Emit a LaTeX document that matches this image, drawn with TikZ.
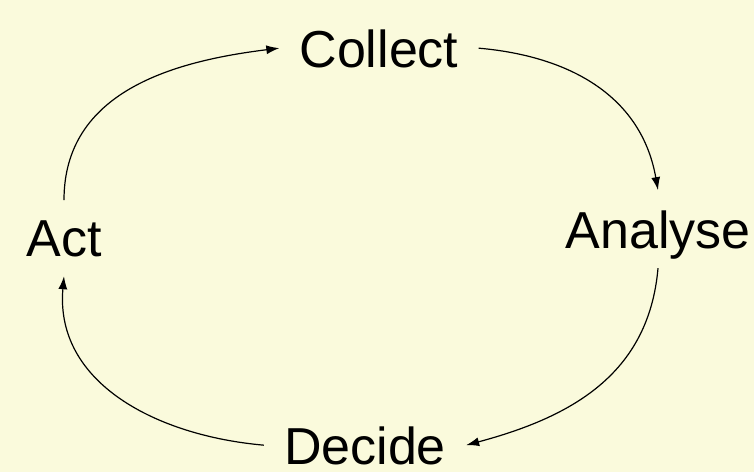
\documentclass[tikz,border=0pt]{standalone}
\usepackage{fontspec}
\setmainfont{Liberation Sans}
\usetikzlibrary{arrows.meta}
\definecolor{bg}{RGB}{250,250,220}
\begin{document}
\begin{tikzpicture}[x=1pt,y=-1pt,
  lbl/.style={font=\fontsize{52}{60}\selectfont, inner sep=20pt, text depth=0pt, anchor=base},
  flow/.style={line width=1.2pt, -{Latex[length=13pt,width=9pt]}, looseness=1.05}]
\fill[bg] (0,0) rectangle (754,472);
\useasboundingbox (0,0) rectangle (754,472);
\node[lbl] (collect) at (379,67) {Collect};
\node[lbl] (analyse) at (658,248) {Analyse};
\node[lbl, inner ysep=2pt] (decide) at (365,464) {Decide};
\node[lbl] (act) at (64,256) {Act};
\draw[flow] (act.north) to[out=90,in=187] (collect.west);
\draw[flow] (collect.east) to[out=-5,in=100] (analyse.north);
\draw[flow] (analyse.south) to[out=-95,in=15] (decide.east);
\draw[flow] (decide.west) to[out=175,in=-95] (act.south);
\end{tikzpicture}
\end{document}
